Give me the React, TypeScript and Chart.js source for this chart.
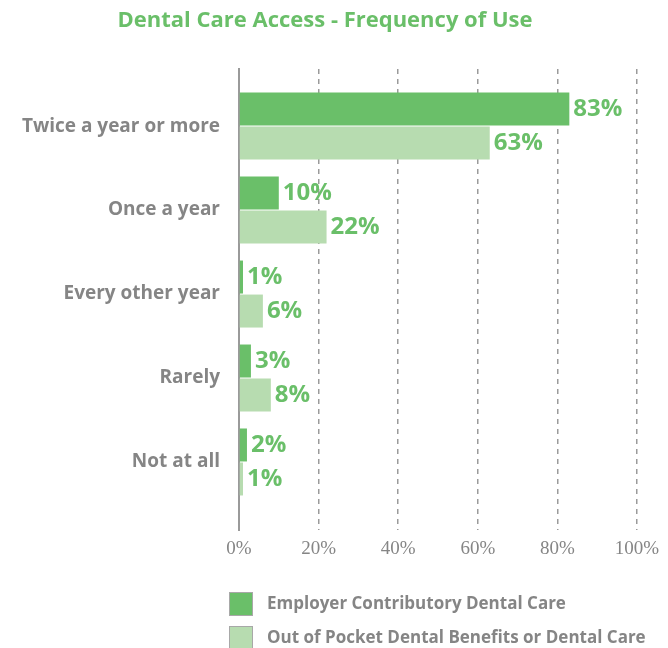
import React, { useEffect, useRef } from "react";
import { Chart, registerables } from "chart.js";

Chart.register(...registerables);

const title = "Dental Care Access - Frequency of Use";
const categories = ["Twice a year or more", "Once a year", "Every other year", "Rarely", "Not at all"];
const seriesNames = ["Employer Contributory Dental Care", "Out of Pocket Dental Benefits or Dental Care"];
const employerValues = [83, 10, 1, 3, 2];
const outOfPocketValues = [63, 22, 6, 8, 1];
const xTicks = [0, 20, 40, 60, 80, 100];

const DARK = "#6abf69";
const LIGHT = "#b7dcb0";
const GRAY = "#858585";
const SANS = "'Open Sans', 'DejaVu Sans', sans-serif";

const titlePlugin = {
  id: "customTitle",
  afterDraw(chart: any) {
    const ctx = chart.ctx;
    ctx.save();
    ctx.font = `bold 22px ${SANS}`;
    ctx.fillStyle = DARK;
    ctx.textAlign = "center";
    ctx.textBaseline = "middle";
    ctx.fillText(title, 325, 21);
    ctx.restore();
  },
};

const dataLabelPlugin = {
  id: "dataLabels",
  afterDatasetsDraw(chart: any) {
    const ctx = chart.ctx;
    ctx.save();
    ctx.font = `bold 24px ${SANS}`;
    ctx.fillStyle = DARK;
    ctx.textAlign = "left";
    ctx.textBaseline = "middle";
    chart.data.datasets.forEach((ds: any, di: number) => {
      const meta = chart.getDatasetMeta(di);
      meta.data.forEach((bar: any, i: number) => {
        const v = ds.data[i].x;
        ctx.fillText(`${v}%`, bar.x + 4, bar.y);
      });
    });
    ctx.restore();
  },
};

const legendPlugin = {
  id: "customLegend",
  afterDraw(chart: any) {
    const ctx = chart.ctx;
    ctx.save();
    ctx.font = `bold 17px ${SANS}`;
    ctx.textAlign = "left";
    ctx.textBaseline = "middle";
    chart.data.datasets.forEach((ds: any, i: number) => {
      const x = 229;
      const y = 592 + i * 34;
      ctx.fillStyle = ds.backgroundColor;
      ctx.fillRect(x, y, 24, 24);
      ctx.strokeStyle = "#a8a8a8";
      ctx.lineWidth = 1;
      ctx.strokeRect(x + 0.5, y + 0.5, 23, 23);
      ctx.fillStyle = GRAY;
      ctx.fillText(ds.label, 267, y + 12);
    });
    ctx.restore();
  },
};

export default function App() {
  const ref = useRef<HTMLCanvasElement>(null);
  useEffect(() => {
    document.body.style.margin = "0";
    const chart = new Chart(ref.current!, {
      type: "bar",
      data: {
        datasets: [
          {
            label: seriesNames[0],
            data: employerValues.map((v, i) => ({ x: v, y: i })),
            backgroundColor: DARK,
          },
          {
            label: seriesNames[1],
            data: outOfPocketValues.map((v, i) => ({ x: v, y: i })),
            backgroundColor: LIGHT,
          },
        ],
      },
      options: {
        animation: false,
        responsive: true,
        maintainAspectRatio: false,
        indexAxis: "y",
        categoryPercentage: 0.81,
        barPercentage: 0.97,
        layout: { padding: { top: 69, right: 31, bottom: 88, left: 0 } },
        plugins: { legend: { display: false }, title: { display: false }, tooltip: { enabled: false } },
        scales: {
          x: {
            type: "linear",
            min: 0,
            max: 100,
            afterBuildTicks: (s: any) => {
              s.ticks = xTicks.map((v) => ({ value: v }));
            },
            afterFit: (s: any) => {
              s.height = 30;
            },
            grid: {
              drawTicks: false,
              color: (c: any) => (c.tick && c.tick.value === 0 ? "rgba(0,0,0,0)" : "#9a9a9a"),
              lineWidth: 1.5,
            },
            border: { display: false, dash: [5, 5] },
            ticks: {
              padding: 8,
              color: GRAY,
              font: { family: "'Liberation Serif', 'DejaVu Serif', serif", size: 19 },
              callback: (v: any) => `${v}%`,
            },
          },
          y: {
            type: "linear",
            reverse: true,
            offset: false,
            min: -0.68,
            max: 4.81,
            afterBuildTicks: (s: any) => {
              s.ticks = categories.map((_, i) => ({ value: i }));
            },
            afterFit: (s: any) => {
              s.width = 239;
            },
            grid: { display: false, drawTicks: false, offset: false },
            border: { display: true, color: "#9a9a9a", width: 2 },
            ticks: {
              padding: 19,
              color: GRAY,
              font: { family: SANS, size: 19, weight: "bold" },
              callback: (v: any) => categories[v] ?? "",
            },
          },
        },
      },
      plugins: [titlePlugin, dataLabelPlugin, legendPlugin],
    } as any);
    return () => chart.destroy();
  }, []);
  return (
    <div style={{ width: 668, height: 648, position: "relative" }}>
      <canvas ref={ref} />
    </div>
  );
}
